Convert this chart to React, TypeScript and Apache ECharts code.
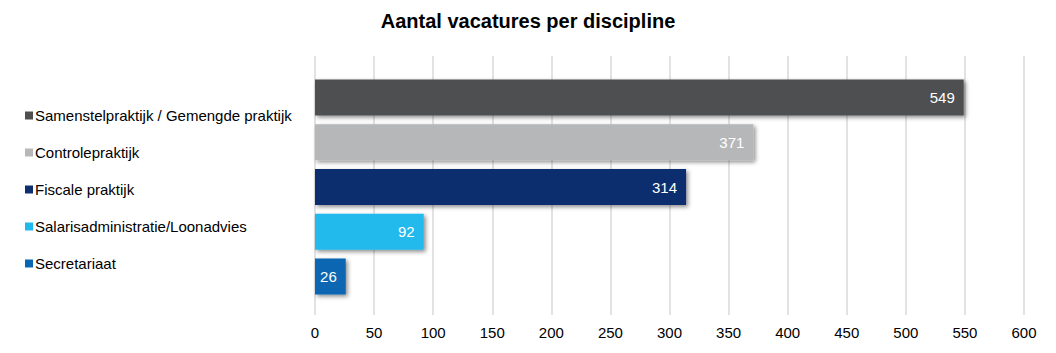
import React, { useEffect, useRef } from "react";
import * as echarts from "echarts";

const categories = [
  "Samenstelpraktijk / Gemengde praktijk",
  "Controlepraktijk",
  "Fiscale praktijk",
  "Salarisadministratie/Loonadvies",
  "Secretariaat",
];
const values = [549, 371, 314, 92, 26];
const colors = ["#4e4f51", "#b6b7b9", "#0d2f6e", "#20b9ed", "#0966b1"];
const xTicks = { min: 0, max: 600, interval: 50 };

export default function App() {
  const ref = useRef<HTMLDivElement>(null);
  useEffect(() => {
    const chart = echarts.init(ref.current!, null, { renderer: "svg" });
    const font = "Arial, 'Liberation Sans', sans-serif";
    const series = categories.map((name, i) => ({
      name,
      type: "bar",
      stack: "all",
      xAxisIndex: 1,
      yAxisIndex: 1,
      barWidth: 36,
      data: categories.map((_, j) => (j === i ? values[i] : "-")),
      itemStyle: {
        color: colors[i],
        shadowColor: "rgba(0,0,0,0.45)",
        shadowBlur: 4,
        shadowOffsetX: 2,
        shadowOffsetY: 2,
      },
      label: {
        show: true,
        position: "insideRight",
        distance: 9,
        color: "#ffffff",
        fontSize: 15,
        fontFamily: font,
      },
    }));
    chart.setOption({
      animation: false,
      title: {
        text: "Aantal vacatures per discipline",
        left: 528,
        textAlign: "center",
        top: 11,
        padding: 0,
        textStyle: { fontSize: 20, fontWeight: "bold", color: "#000", fontFamily: font },
      },
      legend: {
        orient: "vertical",
        left: 25,
        top: 108,
        padding: 0,
        itemWidth: 8,
        itemHeight: 8,
        itemGap: 22,
        icon: "rect",
        textStyle: { fontSize: 15, color: "#000", fontFamily: font, lineHeight: 15, padding: [0, 0, 0, -3] },
        data: categories,
      },
      grid: [
        { left: 315, right: 32, top: 56, bottom: 38 },
        { left: 315, right: 32, top: 75, bottom: 54 },
      ],
      xAxis: [
        {
          gridIndex: 0,
          type: "value",
          ...xTicks,
          axisLine: { show: false },
          axisTick: { show: false },
          splitLine: { show: true, lineStyle: { color: "#d9d9d9", width: 1.5 } },
          axisLabel: { fontSize: 15, color: "#000", fontFamily: font, margin: 10 },
        },
        {
          gridIndex: 1,
          type: "value",
          ...xTicks,
          show: false,
        },
      ],
      yAxis: [
        { gridIndex: 0, type: "category", data: categories, show: false },
        { gridIndex: 1, type: "category", data: categories, inverse: true, show: false },
      ],
      series,
    });
    return () => chart.dispose();
  }, []);
  return <div ref={ref} style={{ width: 1056, height: 353, position: "absolute", left: 0, top: 0 }} />;
}
